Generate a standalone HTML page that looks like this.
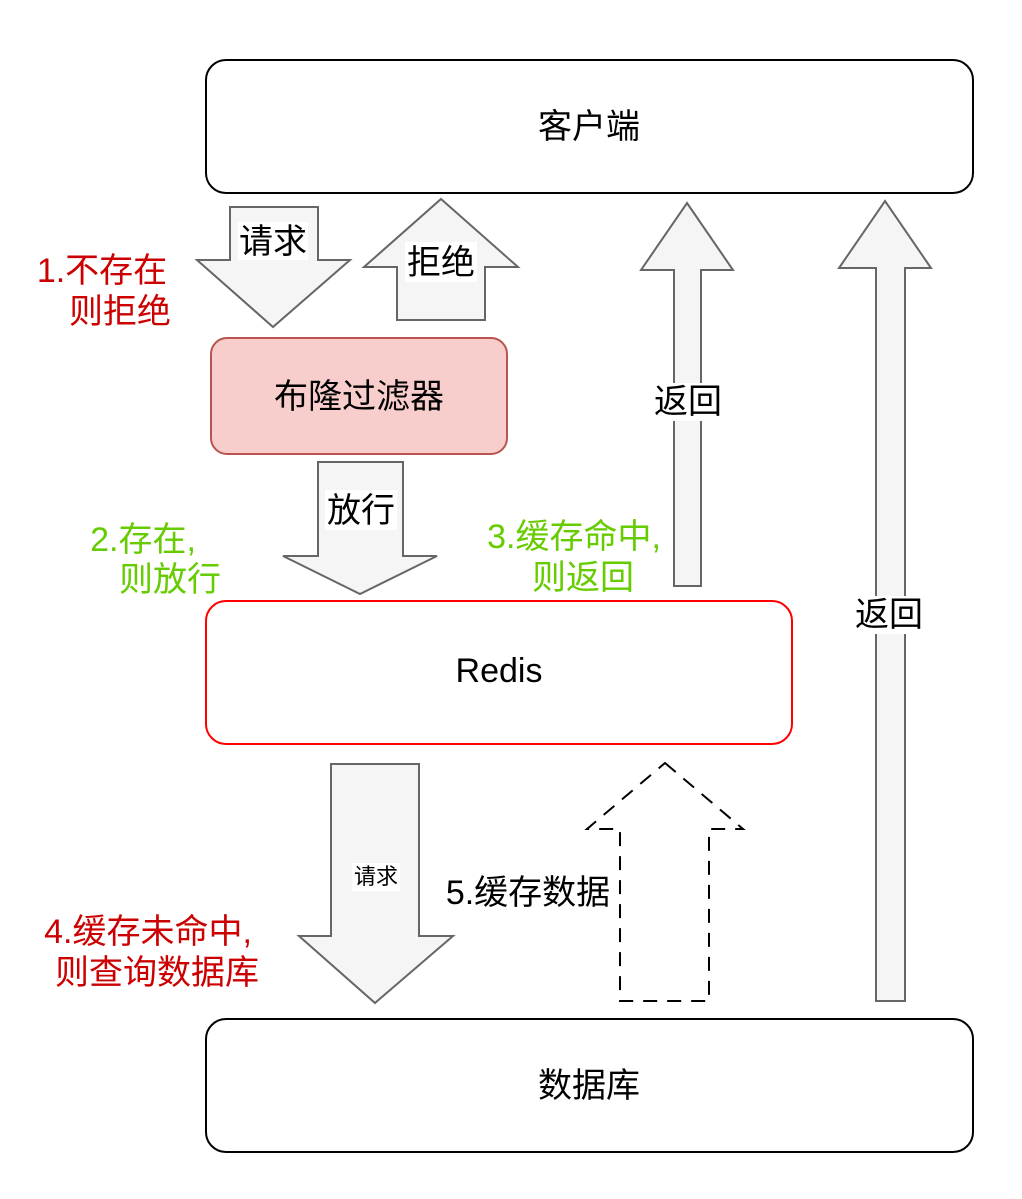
<!DOCTYPE html>
<html><head><meta charset="utf-8"><style>
body{margin:0;background:#fff}
svg text{font-family:"Liberation Sans","Noto Sans CJK SC",sans-serif}
</style></head><body>
<svg width="1022" height="1194" viewBox="0 0 1022 1194" xmlns="http://www.w3.org/2000/svg">
<rect width="1022" height="1194" fill="#fff"/>
<g stroke-width="2">
<rect x="206" y="60" width="767" height="133" rx="20" fill="#fff" stroke="#000"/>
<rect x="206" y="1019" width="767" height="133" rx="20" fill="#fff" stroke="#000"/>
<rect x="211" y="338" width="296" height="116" rx="16" fill="#f8cecc" stroke="#b85450"/>
<rect x="206" y="601" width="586" height="143" rx="20" fill="#fff" stroke="#ff0000"/>
<g fill="#f5f5f5" stroke="#666" stroke-width="2">
<polygon points="230,207 318,207 318,260 350,260 273,327 197,260 230,260"/>
<polygon points="441,199 518,267 485,267 485,320 397,320 397,267 364,267"/>
<polygon points="318,462 403,462 403,556 437,556 360,594 283,556 318,556"/>
<polygon points="687,203 733,270 701,270 701,586 674,586 674,270 641,270"/>
<polygon points="885,201 931,268 905,268 905,1001 876,1001 876,268 839,268"/>
<polygon points="331,764 419,764 419,936 453,936 375,1003 299,936 331,936"/>
</g>
<polygon points="665,763 743,829 709,829 709,1001 620,1001 620,829 587,829" fill="none" stroke="#000" stroke-width="2" stroke-dasharray="14,10"/>
</g>
<g font-size="34" text-anchor="middle">
<text x="589" y="138">客户端</text>
<text x="589" y="1097">数据库</text>
<text x="359" y="408">布隆过滤器</text>
<text x="499" y="682">Redis</text>
</g>
<g font-size="34" text-anchor="middle">
<rect x="238" y="222" width="70" height="38" fill="#fff"/><text x="273" y="253">请求</text>
<rect x="405" y="242" width="72" height="40" fill="#fff"/><text x="441" y="274">拒绝</text>
<rect x="325" y="490" width="72" height="40" fill="#fff"/><text x="361" y="522">放行</text>
<rect x="654" y="383" width="68" height="38" fill="#fff"/><text x="688" y="413">返回</text>
<rect x="855" y="596" width="68" height="38" fill="#fff"/><text x="889" y="626">返回</text>
<text x="528" y="904">5.缓存数据</text>
</g>
<rect x="352" y="863" width="48" height="28" fill="#fff"/>
<text x="376" y="884" font-size="22" text-anchor="middle">请求</text>
<g font-size="34" text-anchor="middle" fill="#cc0000">
<text x="102" y="282">1.不存在</text>
<text x="120" y="323">则拒绝</text>
<text x="148" y="943">4.缓存未命中,</text>
<text x="157" y="984">则查询数据库</text>
</g>
<g font-size="34" text-anchor="middle" fill="#66cc00">
<text x="143" y="551">2.存在,</text>
<text x="170" y="591">则放行</text>
<text x="574" y="548">3.缓存命中,</text>
<text x="583" y="589">则返回</text>
</g>
</svg>
</body></html>
